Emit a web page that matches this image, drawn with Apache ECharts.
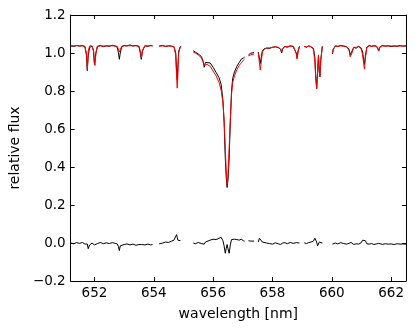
<!DOCTYPE html>
<html>
<head>
<meta charset="utf-8">
<script src="https://cdn.jsdelivr.net/npm/echarts@6/dist/echarts.min.js"></script>
<style>
  html, body { margin: 0; padding: 0; background: #fff; }
  #chartSpec { width: 415px; height: 329px; }
</style>
</head>
<body>
<div id="chartSpec"></div>
<script>
// wavelength grid [nm]; a null flux marks a gap in the data
var wave = [
  651.20, 651.30, 651.40, 651.50, 651.60, 651.68, 651.73, 651.76, 651.79, 651.84,
  651.92, 651.97, 652.00, 652.02, 652.05, 652.10, 652.20, 652.30, 652.40, 652.50,
  652.60, 652.70, 652.77, 652.81, 652.84, 652.87, 652.92, 653.00, 653.10, 653.20,
  653.30, 653.40, 653.50, 653.54, 653.58, 653.62, 653.70, 653.80, 653.90, 653.96,
  654.05,
  654.18, 654.30, 654.40, 654.50, 654.60, 654.68, 654.74, 654.77, 654.79, 654.81, 654.84, 654.90,
  655.10,
  655.33, 655.40, 655.50, 655.60, 655.66, 655.70, 655.74, 655.80, 655.90, 656.00,
  656.10, 656.20, 656.27, 656.33, 656.37, 656.41, 656.44, 656.47, 656.50, 656.54,
  656.58, 656.62, 656.66, 656.72, 656.80, 656.88, 656.95, 657.02, 657.06,
  657.12,
  657.19, 657.26, 657.32, 657.38,
  657.45,
  657.52, 657.56, 657.59, 657.62, 657.66, 657.72, 657.80, 657.90, 658.00, 658.10,
  658.20, 658.27, 658.31, 658.35, 658.42, 658.50, 658.60, 658.70, 658.76, 658.80,
  658.83, 658.86, 658.91,
  658.99,
  659.07, 659.15, 659.22, 659.30, 659.38, 659.43, 659.46, 659.49, 659.52, 659.55,
  659.58, 659.60, 659.63, 659.68,
  659.85,
  660.02, 660.05, 660.12, 660.20, 660.30, 660.40, 660.50, 660.58, 660.62, 660.65,
  660.68, 660.74, 660.82, 660.90, 660.98, 661.04, 661.07, 661.10, 661.13, 661.18,
  661.26, 661.34, 661.42, 661.50, 661.55, 661.58, 661.62, 661.70, 661.80, 661.90,
  662.00, 662.10, 662.20, 662.30, 662.40, 662.50
];

// observed spectrum (black)
var obsFlux = [
  1.038, 1.034, 1.040, 1.036, 1.039, 1.032, 0.990, 0.907, 0.985, 1.030,
  1.036, 1.010, 0.940, 0.930, 1.000, 1.034, 1.040, 1.033, 1.038, 1.035,
  1.041, 1.036, 1.030, 1.000, 0.967, 1.000, 1.032, 1.040, 1.037, 1.043,
  1.036, 1.040, 1.033, 1.005, 0.967, 1.010, 1.038, 1.035, 1.040, 1.037,
  null,
  1.036, 1.040, 1.034, 1.038, 1.036, 1.033, 1.000, 0.900, 0.860, 0.920, 1.010, 1.035,
  null,
  1.012, 1.005, 0.995, 0.982, 0.960, 0.925, 0.950, 0.955, 0.948, 0.925,
  0.898, 0.870, 0.835, 0.752, 0.636, 0.446, 0.350, 0.292, 0.330, 0.446,
  0.640, 0.798, 0.867, 0.900, 0.930, 0.950, 0.968, 0.974, 0.978,
  null,
  0.990, 0.998, 0.995, 1.003,
  null,
  1.005, 0.975, 0.945, 0.975, 1.010, 1.022, 1.026, 1.024, 1.030, 1.033,
  1.028, 1.020, 1.000, 1.025, 1.035, 1.030, 1.038, 1.034, 1.030, 1.000,
  0.975, 1.010, 1.035,
  null,
  1.035, 1.030, 1.038, 1.032, 1.025, 0.975, 0.875, 0.815, 0.895, 0.985,
  0.900, 0.875, 0.965, 1.035,
  null,
  0.995, 1.020, 1.038, 1.034, 1.040, 1.036, 1.032, 1.020, 0.990, 0.985,
  1.010, 1.030, 1.025, 1.035, 1.028, 1.005, 0.965, 0.940, 0.985, 1.030,
  1.040, 1.035, 1.038, 1.036, 1.025, 1.012, 1.030, 1.040, 1.036, 1.038,
  1.034, 1.037, 1.035, 1.039, 1.036, 1.037
];

// model spectrum (red)
var modelFlux = [
  1.038, 1.038, 1.038, 1.038, 1.037, 1.036, 0.995, 0.912, 1.010, 1.038,
  1.037, 1.015, 0.950, 0.935, 1.000, 1.036, 1.037, 1.037, 1.037, 1.038,
  1.038, 1.037, 1.035, 1.020, 1.005, 1.015, 1.036, 1.038, 1.038, 1.038,
  1.038, 1.038, 1.037, 1.015, 0.975, 1.015, 1.038, 1.038, 1.038, 1.038,
  null,
  1.037, 1.037, 1.036, 1.037, 1.036, 1.034, 0.990, 0.870, 0.815, 0.880, 1.000, 1.036,
  null,
  1.005, 1.000, 0.990, 0.975, 0.955, 0.935, 0.945, 0.940, 0.930, 0.905,
  0.880, 0.845, 0.805, 0.740, 0.650, 0.500, 0.380, 0.300, 0.360, 0.500,
  0.650, 0.780, 0.845, 0.880, 0.912, 0.935, 0.948, 0.962, 0.968,
  null,
  0.985, 0.990, 0.990, 0.995,
  null,
  1.000, 0.950, 0.910, 0.950, 1.005, 1.020, 1.025, 1.027, 1.030, 1.032,
  1.030, 1.022, 1.010, 1.025, 1.033, 1.034, 1.035, 1.036, 1.030, 0.998,
  0.968, 1.002, 1.035,
  null,
  1.034, 1.033, 1.036, 1.034, 1.020, 0.950, 0.860, 0.810, 0.905, 0.990,
  0.895, 0.875, 0.965, 1.034,
  null,
  1.000, 1.020, 1.036, 1.036, 1.037, 1.037, 1.034, 1.015, 0.980, 0.970,
  1.000, 1.030, 1.030, 1.034, 1.025, 0.990, 0.945, 0.915, 0.970, 1.030,
  1.037, 1.036, 1.037, 1.037, 1.030, 1.010, 1.032, 1.037, 1.037, 1.037,
  1.037, 1.037, 1.037, 1.037, 1.037, 1.037
];

// residuals obs - model (black, around 0)
var residFlux = [
  0.000, -0.004, 0.002, -0.002, 0.003, -0.006, -0.010, -0.005, -0.030, -0.010,
  0.000, -0.005, -0.010, -0.005, 0.000, -0.003, 0.003, -0.004, 0.001, -0.003,
  0.002, -0.002, -0.005, -0.020, -0.040, -0.015, -0.005, -0.008, -0.005, -0.010,
  -0.006, -0.012, -0.008, -0.010, -0.008, -0.005, -0.010, -0.006, -0.010, -0.008,
  null,
  -0.005, 0.000, 0.005, 0.003, 0.010, 0.015, 0.020, 0.044, 0.030, 0.015, 0.010, 0.012,
  null,
  0.000, -0.004, 0.003, -0.003, 0.002, -0.006, 0.005, 0.012, 0.015, 0.020,
  0.018, 0.025, 0.030, 0.012, -0.015, -0.054, -0.030, -0.008, -0.030, -0.054,
  -0.010, 0.018, 0.022, 0.020, 0.018, 0.015, 0.020, 0.012, 0.010,
  null,
  0.012, 0.010, 0.015, 0.010,
  null,
  0.005, 0.025, 0.030, 0.025, 0.005, 0.002, 0.000, -0.003, -0.006, 0.001,
  -0.004, -0.008, -0.012, 0.000, 0.002, -0.004, 0.003, -0.002, 0.000, 0.002,
  0.005, 0.006, 0.000,
  null,
  0.001, -0.003, 0.002, 0.005, 0.010, 0.025, 0.015, 0.005, -0.015, -0.005,
  0.005, 0.000, -0.004, 0.000,
  null,
  -0.006, -0.004, 0.000, -0.005, 0.002, -0.003, -0.006, -0.002, -0.004, 0.003,
  -0.005, -0.008, -0.004, -0.006, 0.000, 0.015, 0.020, 0.022, 0.012, -0.004,
  -0.006, -0.003, -0.008, -0.005, -0.006, -0.002, -0.005, -0.007, -0.004, -0.006,
  -0.005, -0.008, -0.004, -0.006, -0.005, -0.006
];

var xTicks = [652, 654, 656, 658, 660, 662];

function pairs(ys) {
  return wave.map(function (w, i) { return [w, ys[i]]; });
}

var chartSpec = echarts.init(document.getElementById('chartSpec'));
var font = 'DejaVu Sans';
var axisLine = { show: true, onZero: false, lineStyle: { color: '#000', width: 1 } };

var option = {
  animation: false,
  backgroundColor: '#fff',
  grid: { left: 66, right: 9, top: 15, bottom: 48 },
  xAxis: [
    {
      type: 'value', position: 'bottom', min: 651.2, max: 662.5,
      name: 'wavelength [nm]', nameLocation: 'middle', nameGap: 26,
      nameTextStyle: { fontFamily: font, fontSize: 14, color: '#000' },
      axisLine: axisLine,
      axisTick: { inside: true, length: 4, customValues: xTicks, lineStyle: { color: '#000' } },
      axisLabel: { customValues: xTicks, margin: 5, fontFamily: font, fontSize: 13.5, color: '#000' },
      splitLine: { show: false }
    },
    {
      type: 'value', position: 'top', min: 651.2, max: 662.5,
      axisLine: axisLine,
      axisTick: { inside: true, length: 4, customValues: xTicks, lineStyle: { color: '#000' } },
      axisLabel: { show: false },
      splitLine: { show: false }
    }
  ],
  yAxis: [
    {
      type: 'value', position: 'left', min: -0.2, max: 1.2, interval: 0.2,
      name: 'relative flux', nameLocation: 'middle', nameGap: 45,
      nameTextStyle: { fontFamily: font, fontSize: 14, color: '#000' },
      axisLine: axisLine,
      axisTick: { inside: true, length: 4, lineStyle: { color: '#000' } },
      axisLabel: {
        margin: 5, fontFamily: font, fontSize: 13.5, color: '#000',
        formatter: function (v) {
          return (v < -1e-9 ? '\u2212' : '') + Math.abs(v).toFixed(1);
        }
      },
      splitLine: { show: false }
    },
    {
      type: 'value', position: 'right', min: -0.2, max: 1.2, interval: 0.2,
      axisLine: axisLine,
      axisTick: { inside: true, length: 4, lineStyle: { color: '#000' } },
      axisLabel: { show: false },
      splitLine: { show: false }
    }
  ],
  series: [
    {
      name: 'observed', type: 'line', data: pairs(obsFlux),
      showSymbol: false, connectNulls: false,
      lineStyle: { color: '#000', width: 1 }
    },
    {
      name: 'model', type: 'line', data: pairs(modelFlux),
      showSymbol: false, connectNulls: false,
      lineStyle: { color: '#ff0000', width: 1 }
    },
    {
      name: 'residual', type: 'line', data: pairs(residFlux),
      showSymbol: false, connectNulls: false,
      lineStyle: { color: '#000', width: 1 }
    }
  ]
};
chartSpec.setOption(option);
</script>
</body>
</html>
